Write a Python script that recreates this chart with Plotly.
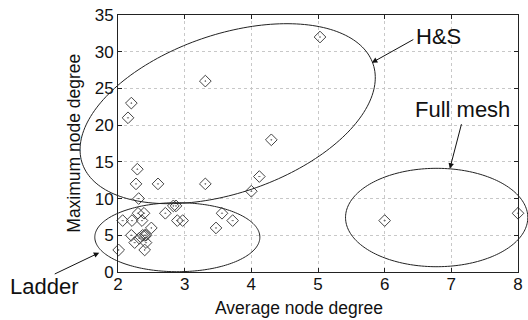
import numpy as np
import plotly.graph_objects as go

# ---- data ----
avg_degree = [2.29, 2.27, 2.60, 3.31, 4.12, 4.00, 2.31, 2.83, 2.87, 2.71,
              2.89, 2.97, 3.56, 3.72, 3.47, 2.07, 2.21, 2.30, 2.39, 2.36,
              2.50, 2.20, 2.37, 2.40, 2.42, 2.32, 2.25, 2.42, 2.40, 2.01,
              2.20, 2.15, 3.31, 4.30, 5.03, 6.00, 8.00]
max_degree = [14, 12, 12, 12, 13, 11, 10, 9, 9, 8,
              7, 7, 8, 7, 6, 7, 7, 8, 8, 7,
              6, 5, 5, 5, 5, 4.6, 4, 4, 3, 3,
              23, 21, 26, 18, 32, 7, 8]
x_ticks = [2, 3, 4, 5, 6, 7, 8]
y_ticks = [0, 5, 10, 15, 20, 25, 30, 35]
group_labels = ["H&S", "Full mesh", "Ladder"]

X_RANGE = (2, 8)
Y_RANGE = (0, 35)
FONT = "Liberation Sans, Arial, sans-serif"

fig = go.Figure()
fig.add_trace(go.Scatter(
    x=avg_degree, y=max_degree, mode="markers",
    marker=dict(symbol="diamond-open-dot", size=9, color="#444444",
                line=dict(width=1, color="#444444")),
    showlegend=False, cliponaxis=False, hoverinfo="skip"))

# ---- ellipses (center + conjugate semi-diameters, data units) ----
ellipses = [
    # H&S (rotated)
    dict(c=(3.645, 21.56), u=(2.182, 6.744), v=(0.3765, -10.234)),
    # Full mesh
    dict(c=(6.78, 7.42), u=(1.367, 0.0), v=(0.0, 6.70)),
    # Ladder
    dict(c=(2.89, 4.74), u=(1.238, 0.0), v=(0.0, 4.70)),
]

def to_paper(x, y):
    return ((x - X_RANGE[0]) / (X_RANGE[1] - X_RANGE[0]),
            (y - Y_RANGE[0]) / (Y_RANGE[1] - Y_RANGE[0]))

t = np.linspace(0, 2 * np.pi, 200)
shapes = []
for e in ellipses:
    xs = e["c"][0] + e["u"][0] * np.cos(t) + e["v"][0] * np.sin(t)
    ys = e["c"][1] + e["u"][1] * np.cos(t) + e["v"][1] * np.sin(t)
    px, py = to_paper(xs, ys)
    path = "M " + " L ".join(f"{a:.5f},{b:.5f}" for a, b in zip(px, py)) + " Z"
    shapes.append(dict(type="path", path=path, xref="paper", yref="paper",
                       line=dict(color="#222222", width=1), layer="above"))

annotations = []
# labels
label_pos = [(0.802, 0.918), (0.860, 0.634), (-0.183, -0.058)]
for txt, (ax_, ay_) in zip(group_labels, label_pos):
    annotations.append(dict(text=txt, x=ax_, y=ay_, xref="paper", yref="paper",
                            showarrow=False, xanchor="center", yanchor="middle",
                            font=dict(family=FONT, size=22, color="#111111")))
# arrows (head in paper coords, tail offset in pixels)
arrows = [(0.6346, 0.8144, 43, -24), (0.8296, 0.4020, 12, -46),
          (-0.0469, 0.0751, -46, 22)]
for hx, hy, ax_, ay_ in arrows:
    annotations.append(dict(text="", x=hx, y=hy, xref="paper", yref="paper",
                            showarrow=True, ax=ax_, ay=ay_, arrowhead=2,
                            arrowsize=1.1, arrowwidth=1, arrowcolor="#111111"))
# axis titles
annotations.append(dict(text="Average node degree", x=0.452, y=-0.142,
                        xref="paper", yref="paper", showarrow=False,
                        xanchor="center", yanchor="middle",
                        font=dict(family=FONT, size=17.5, color="#111111")))
annotations.append(dict(text="Maximum node degree", x=-0.112, y=0.5,
                        xref="paper", yref="paper", showarrow=False,
                        textangle=-90, xanchor="center", yanchor="middle",
                        font=dict(family=FONT, size=17.5, color="#111111")))

axis_common = dict(showgrid=True, gridcolor="#c8c8c8", griddash="dot",
                   gridwidth=1, showline=True, linecolor="#222222",
                   linewidth=1, mirror="ticks", ticks="inside", ticklen=4,
                   tickcolor="#222222", zeroline=False,
                   tickfont=dict(family=FONT, size=17, color="#111111"))

fig.update_layout(
    width=528, height=320,
    margin=dict(l=118, r=5, t=15, b=48),
    paper_bgcolor="white", plot_bgcolor="white",
    xaxis=dict(range=list(X_RANGE), tickvals=x_ticks, ticklabelstandoff=-3,
               **axis_common),
    yaxis=dict(range=list(Y_RANGE), tickvals=y_ticks, **axis_common),
    shapes=shapes, annotations=annotations,
)

fig.write_html("out.html",
               config={"displayModeBar": False},
               post_script="document.body.style.margin='0';")
